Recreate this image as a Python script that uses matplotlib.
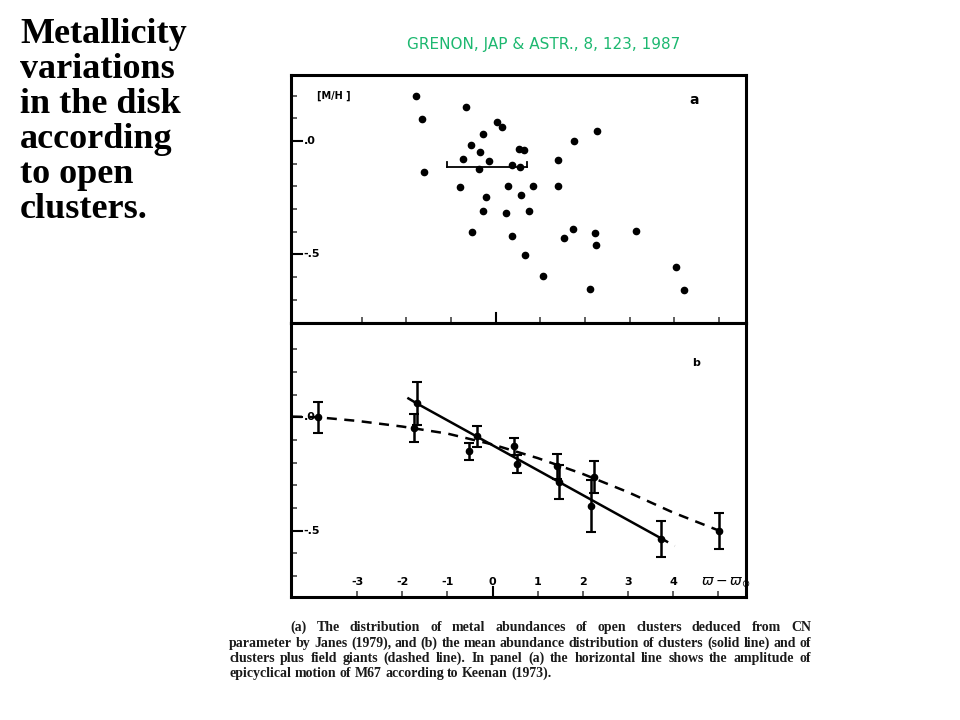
import numpy as np
import matplotlib.pyplot as plt
from matplotlib.transforms import blended_transform_factory

# panel (a): [M/H] of open clusters vs (varpi - varpi_sun)
a_x = [-1.79, -1.64, -1.61, -0.66, -0.28, -0.55, -0.36, -0.74, -0.15, -0.37,
       0.04, 0.15, 0.51, 0.63, 0.37, 0.54, -0.81, 0.28, 0.84, -0.21,
       0.56, -0.28, 0.24, 0.74, -0.54, 0.37, 0.66, 1.05, 1.39, 1.40,
       1.75, 2.27, 1.53, 1.72, 2.22, 2.25, 2.11, 3.14, 4.03, 4.21]
a_y = [0.199, 0.099, -0.137, 0.152, 0.031, -0.016, -0.047, -0.080, -0.088, -0.124,
       0.082, 0.061, -0.034, -0.038, -0.105, -0.117, -0.202, -0.199, -0.197, -0.246,
       -0.237, -0.311, -0.317, -0.311, -0.401, -0.418, -0.503, -0.594, -0.083, -0.199,
       0.001, 0.042, -0.427, -0.387, -0.404, -0.459, -0.652, -0.396, -0.558, -0.656]
m67_x = [-1.10, 0.70]   # epicyclic amplitude of M67
m67_y = -0.113

# panel (b): mean abundances with error bars
b_x = [-3.87, -1.74, -1.68, -0.52, -0.35, 0.48, 0.54, 1.42, 1.47, 2.24, 2.19, 3.74, 5.02]
b_y = [0.000, -0.047, 0.061, -0.150, -0.084, -0.128, -0.205, -0.217, -0.286,
       -0.264, -0.391, -0.537, -0.501]
b_err = [0.069, 0.063, 0.095, 0.038, 0.047, 0.037, 0.040, 0.057, 0.075,
         0.072, 0.113, 0.081, 0.078]

# clusters (solid) and its dashed extension
solid_x = [-1.67, 3.70]
solid_y = [0.060, -0.530]
ext_x = [-1.89, 4.04]
ext_y = [0.086, -0.568]

# clusters + field giants (dashed curve)
curve_x = [-4.45, -3.87, -3.0, -2.0, -1.0, 0.0, 1.0, 2.0, 3.0, 4.0, 5.02]
curve_y = [0.003, 0.0, -0.016, -0.041, -0.072, -0.12, -0.18, -0.25, -0.33, -0.42, -0.50]

caption = [
    "(a) The distribution of metal abundances of open clusters deduced from CN",
    "parameter by Janes (1979), and (b) the mean abundance distribution of clusters (solid line) and of",
    "clusters plus field giants (dashed line). In panel (a) the horizontal line shows the amplitude of",
    "epicyclical motion of M67 according to Keenan (1973).",
]
title_lines = ["Metallicity", "variations", "in the disk", "according", "to open", "clusters."]

W, H = 960, 720
fig = plt.figure(figsize=(9.6, 7.2), dpi=100)


def px(x, y):
    return x / W, 1 - y / H


L, R, T, M, B = 291, 746, 75, 323, 597
ax_a = fig.add_axes([L / W, 1 - M / H, (R - L) / W, (M - T) / H])
ax_b = fig.add_axes([L / W, 1 - B / H, (R - L) / W, (B - M) / H])

for ax in (ax_a, ax_b):
    for s in ax.spines.values():
        s.set_linewidth(2.2)
    ax.set_yticks(np.arange(-0.7, 0.35, 0.1))
    ax.set_xticks(np.arange(-3, 6, 1))
    ax.tick_params(direction='in', length=4, width=1.2, color='#444444',
                   labelbottom=False, labelleft=False,
                   bottom=True, left=True, top=False, right=False)

# ---- panel a
ax_a.set_xlim(-4.58, 5.60)
ax_a.set_ylim(-0.803, 0.291)
ax_a.plot(a_x, a_y, 'o', color='black', ms=4.5)
ax_a.plot(m67_x, [m67_y, m67_y], color='black', lw=1.3)
for xx in m67_x:
    ax_a.plot([xx, xx], [m67_y, m67_y + 0.022], color='black', lw=1.3)
ax_a.text(-4.0, 0.20, "[M/H ]", fontsize=7, fontweight='bold', ha='left', va='center')
ax_a.text(4.43, 0.18, "a", fontsize=10, fontweight='bold', ha='center', va='center')

# ---- panel b
ax_b.set_xlim(-4.47, 5.62)
ax_b.set_ylim(-0.793, 0.416)
ax_b.plot(curve_x, curve_y, color='black', lw=1.8, ls=(0, (4, 3)))
ax_b.plot(solid_x, solid_y, color='black', lw=1.8)
ax_b.plot([ext_x[0], solid_x[0]], [ext_y[0], solid_y[0]], color='black', lw=1.8, ls=(0, (4, 3)))
ax_b.plot([solid_x[1], ext_x[1]], [solid_y[1], ext_y[1]], color='black', lw=1.8, ls=(0, (4, 3)))
ax_b.errorbar(b_x, b_y, yerr=b_err, fmt='o', color='black', ms=4.5, capsize=3.5,
              elinewidth=1.8, capthick=1.5)
ax_b.text(4.52, 0.24, "b", fontsize=8, fontweight='bold', ha='center', va='center')
for v in range(-3, 5):
    ax_b.text(v, -0.728, str(v), fontsize=8, fontweight='bold',
              ha='center', va='center')
ax_b.text(4.63, -0.728, r'$\varpi - \varpi_{\odot}$', fontsize=10, ha='left', va='center')

# longer ticks at the labelled positions
for ax in (ax_a, ax_b):
    ylo = ax.get_ylim()[0]
    ax.plot([0, 0], [ylo, ylo + 0.045], color='black', lw=1.5)
    tr = blended_transform_factory(ax.transAxes, ax.transData)
    for yv, lab in [(0.0, ".0"), (-0.5, "-.5")]:
        ax.plot([0, 0.025], [yv, yv], color='black', lw=1.5, transform=tr)
        ax.text(0.028, yv, lab, fontsize=8, fontweight='bold', ha='left', va='center',
                transform=tr)

# ---- slide title
for i, line in enumerate(title_lines):
    fig.text(*px(20, 43 + 35 * i), line, fontsize=26, fontweight='bold',
             family='Liberation Serif', ha='left', va='baseline')

# handwritten reference
fig.text(*px(407, 45), "GRENON, JAP & ASTR., 8, 123, 1987", fontsize=11,
         color='#1db870', ha='left', va='center')

# ---- caption, justified
renderer = fig.canvas.get_renderer()
cap_y = [631, 647, 662, 677]
cap_left = [290, 229, 229, 229]
cap_right = 811
cap_kw = dict(family='Liberation Serif', fontweight='bold', color='#1a1a1a')
size = 10
probe = fig.text(0, 0, caption[1], fontsize=size, **cap_kw)
wfull = probe.get_window_extent(renderer).width
probe.remove()
size = size * (cap_right - 229) / wfull
for i, line in enumerate(caption):
    words = line.split()
    texts = [fig.text(0, 0, w, fontsize=size, ha='left', va='baseline', **cap_kw)
             for w in words]
    widths = [t.get_window_extent(renderer).width for t in texts]
    if i < 3:
        gap = (cap_right - cap_left[i] - sum(widths)) / (len(words) - 1)
    else:
        sp = fig.text(0, 0, "a b", fontsize=size, **cap_kw)
        ab = fig.text(0, 0, "ab", fontsize=size, **cap_kw)
        gap = sp.get_window_extent(renderer).width - ab.get_window_extent(renderer).width
        sp.remove()
        ab.remove()
    x = cap_left[i]
    for t, w in zip(texts, widths):
        t.set_position(px(x, cap_y[i]))
        x += w + gap

fig.savefig("out.png", dpi=100)
